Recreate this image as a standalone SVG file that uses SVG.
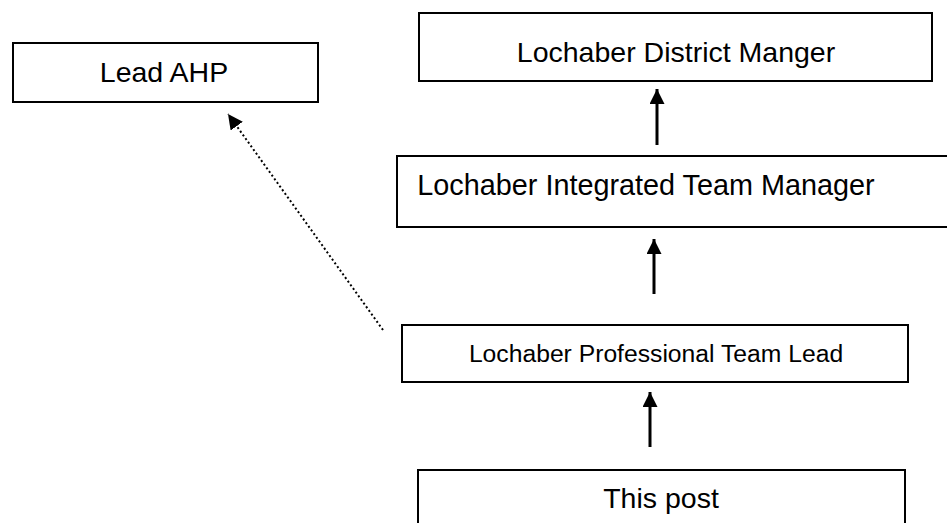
<svg xmlns="http://www.w3.org/2000/svg" width="947" height="523" viewBox="0 0 947 523">
<style>
.box{fill:#fff;stroke:#000;stroke-width:2}
.t{font-family:"Liberation Sans",Arial,sans-serif;fill:#000;text-anchor:middle}
.conn{stroke:#000;stroke-width:3;fill:none}
.dot{stroke:#000;stroke-width:2;fill:none;stroke-dasharray:2 2.5}
</style>
<defs>
<marker id="ah" viewBox="0 0 10 10" refX="10" refY="5" markerWidth="5" markerHeight="5" markerUnits="strokeWidth" orient="auto">
<path d="M0,0 L10,5 L0,10 Z" fill="#000"/>
</marker>
<marker id="ah2" viewBox="0 0 10 10" refX="10" refY="5" markerWidth="7.5" markerHeight="7.5" markerUnits="strokeWidth" orient="auto">
<path d="M0,0 L10,5 L0,10 Z" fill="#000"/>
</marker>
</defs>
<g id="lead-ahp">
<rect class="box" x="13" y="43" width="305" height="59"/>
<text class="t" x="164" y="82" font-size="28.5">Lead AHP</text>
</g>
<g id="district-manager">
<rect class="box" x="419" y="13" width="513" height="68"/>
<text class="t" x="676" y="62" font-size="28.5">Lochaber District Manger</text>
</g>
<g id="integrated-team-manager">
<rect class="box" x="397" y="156" width="560" height="71"/>
<text class="t" x="646" y="195" font-size="28.8">Lochaber Integrated Team Manager</text>
</g>
<g id="professional-team-lead">
<rect class="box" x="402" y="325" width="506" height="57"/>
<text class="t" x="656" y="362" font-size="24.7">Lochaber Professional Team Lead</text>
</g>
<g id="this-post">
<rect class="box" x="418" y="470" width="487" height="70"/>
<text class="t" x="661" y="508" font-size="28.5">This post</text>
</g>
<g id="connectors">
<line class="conn" x1="657" y1="145" x2="657" y2="89" marker-end="url(#ah)"/>
<line class="conn" x1="654" y1="294" x2="654" y2="239" marker-end="url(#ah)"/>
<line class="conn" x1="650" y1="447" x2="650" y2="392" marker-end="url(#ah)"/>
<line class="dot" x1="383" y1="330" x2="228" y2="114" marker-end="url(#ah2)"/>
</g>
</svg>
